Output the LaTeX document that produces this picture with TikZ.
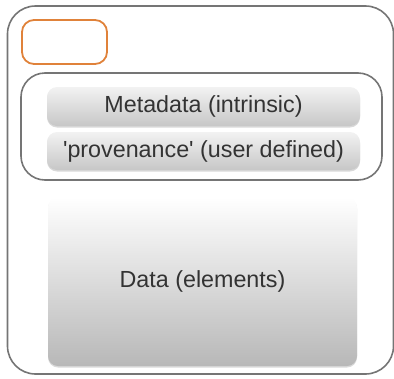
\documentclass[tikz,border=0pt]{standalone}
\usepackage{fontspec}
\newfontfamily\lib{Liberation Sans}
\usetikzlibrary{shadows}
\definecolor{frame}{HTML}{757575}
\definecolor{orng}{HTML}{E0823A}
\definecolor{txt}{HTML}{333333}
\tikzset{
  bar/.style={rounded corners=10pt, top color=#1, bottom color=black!22, draw=none,
    drop shadow={shadow xshift=0pt, shadow yshift=-1.5pt, opacity=0.25, fill=black!60},
    font=\lib\fontsize{23.3}{25}\selectfont, text=txt, inner sep=0pt},
  bar/.default=black!5
}
\begin{document}
\begin{tikzpicture}[x=1pt,y=-1pt]
\useasboundingbox (0,0) rectangle (394,378);
\node[draw=frame, line width=1.6pt, rounded corners=28pt, minimum width=386pt, minimum height=368pt, inner sep=0pt] (outer) at (200.5,190) {};
\node[draw=orng, line width=1.8pt, rounded corners=12pt, minimum width=85pt, minimum height=44pt, inner sep=0pt] (tag) at (64.5,42) {};
\node[draw=frame, line width=1.6pt, rounded corners=24pt, minimum width=361pt, minimum height=107pt, inner sep=0pt] (meta) at (201.5,126.5) {};
\node[bar, minimum width=313pt, minimum height=39pt] (intr) at (203.5,106.5) {Metadata (intrinsic)};
\node[bar, minimum width=313pt, minimum height=38pt] (prov) at (203.5,151) {'provenance' (user defined)};
\node[bar=white, bottom color=black!28, minimum width=309pt, minimum height=169pt] (data) at (202.5,281.5) {Data (elements)};
\end{tikzpicture}
\end{document}
